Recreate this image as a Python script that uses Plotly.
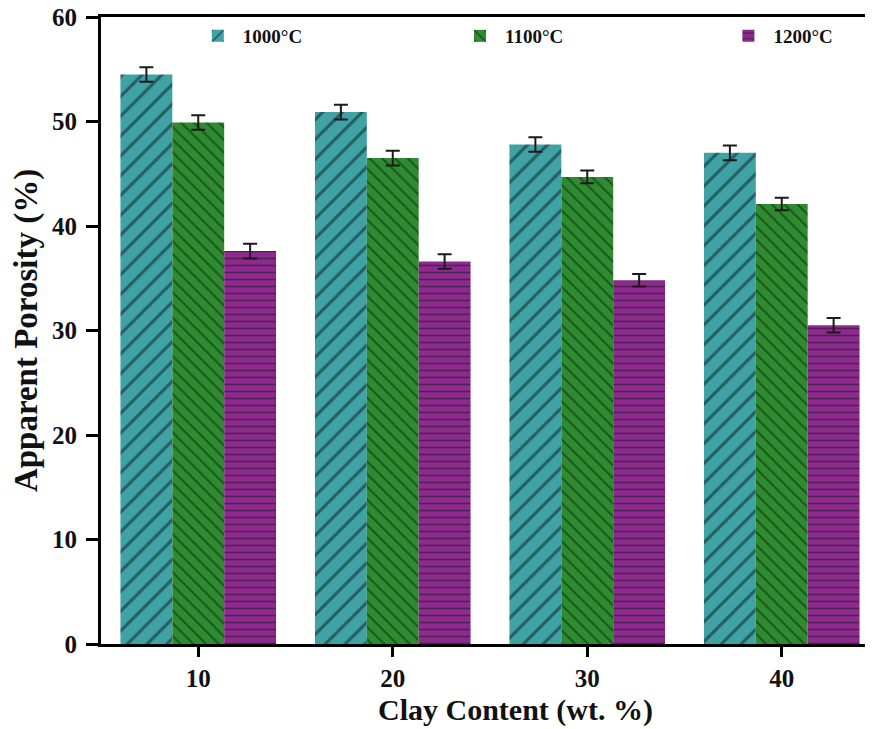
import plotly.graph_objects as go

clay = [10, 20, 30, 40]
series_names = ["1000°C", "1100°C", "1200°C"]
vals_1000 = [54.5, 50.9, 47.8, 47.0]
vals_1100 = [49.9, 46.5, 44.7, 42.1]
vals_1200 = [37.6, 36.6, 34.8, 30.5]
err_1000 = [0.7, 0.7, 0.7, 0.7]
err_1100 = [0.7, 0.7, 0.6, 0.6]
err_1200 = [0.7, 0.7, 0.6, 0.7]
yticks = [0, 10, 20, 30, 40, 50, 60]

colors = ["#3fa3a6", "#2e8c2e", "#8e2a8e"]
shapes = ["/", "\\", "-"]
sizes = [14, 9, 7]
legend_ids = ["legend", "legend2", "legend3"]
legend_x = [0.118, 0.455, 0.8]
values = [vals_1000, vals_1100, vals_1200]
errs = [err_1000, err_1100, err_1200]

font_family = "Liberation Serif"

fig = go.Figure()
for name, v, e, c, s, sz, lg in zip(series_names, values, errs, colors, shapes, sizes, legend_ids):
    fig.add_trace(go.Bar(
        x=clay, y=v, name="<b>" + name + "</b>", legend=lg,
        marker=dict(color=c, line=dict(width=0),
                    pattern=dict(shape=s, fgcolor="#0a1a1a", size=sz, solidity=0.22)),
        error_y=dict(type="data", array=e, visible=True, color="#1a1a1a",
                     thickness=2, width=7),
    ))

legend_common = dict(orientation="h", y=1.0, xanchor="left", yanchor="top",
                     font=dict(family=font_family, size=19, color="#111"),
                     bgcolor="rgba(0,0,0,0)", itemwidth=40)

fig.update_layout(
    width=873, height=729,
    barmode="group", bargap=0.2, bargroupgap=0,
    plot_bgcolor="white", paper_bgcolor="white",
    margin=dict(l=93, r=2, t=9, b=93, autoexpand=False),
    font=dict(family=font_family, color="#111", size=16),
    legend=dict(x=legend_x[0], **legend_common),
    legend2=dict(x=legend_x[1], **legend_common),
    legend3=dict(x=legend_x[2], **legend_common),
    showlegend=True,
    annotations=[dict(
        text="<b>Clay Content (wt. %)</b>", xref="paper", yref="paper",
        x=0.533, y=-0.106, xanchor="center", yanchor="middle", showarrow=False,
        font=dict(family=font_family, size=30, color="#111"),
    )],
)
fig.update_xaxes(
    range=[5, 45], tickvals=clay, ticktext=[str(c) for c in clay],
    showline=True, linecolor="black", linewidth=3, mirror=True,
    ticks="outside", ticklen=10, tickwidth=2.5, tickcolor="black",
    showgrid=False, zeroline=False, automargin=False, ticklabeloverflow="allow",
    tickfont=dict(family=font_family, size=25, color="#111", weight="bold"),
)
fig.update_yaxes(
    range=[0, 60], tickvals=yticks,
    showline=True, linecolor="black", linewidth=3, mirror=False,
    ticks="outside", ticklen=12, tickwidth=2.5, tickcolor="black",
    showgrid=False, zeroline=False, automargin=False, ticklabelstandoff=4,
    ticklabeloverflow="allow",
    tickfont=dict(family=font_family, size=25, color="#111", weight="bold"),
    title=dict(text="<b>Apparent Porosity (%)</b>", font=dict(family=font_family, size=33, color="#111"), standoff=6),
)

fig.write_html("out.html")
